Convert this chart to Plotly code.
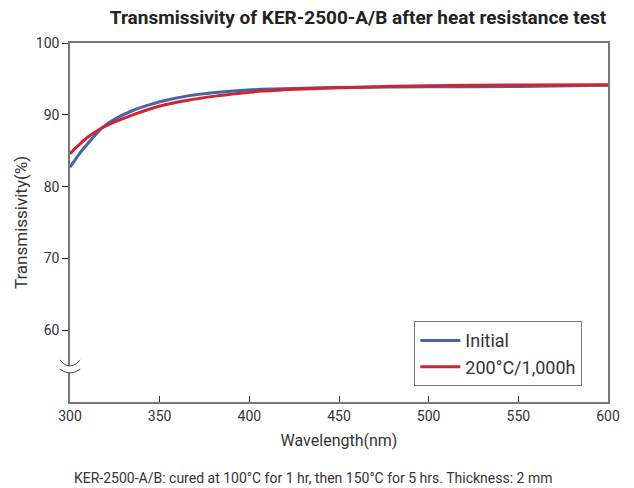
import plotly.graph_objects as go

# wavelength (nm) and transmissivity (%)
wavelength = [300, 305, 310, 318, 325, 335, 345, 353, 365, 381, 395, 407, 430, 462, 500, 550, 600]
initial = [82.7, 84.5, 86.0, 88.2, 89.4, 90.6, 91.45, 92.0, 92.6, 93.1, 93.4, 93.55, 93.7, 93.85, 93.9, 93.95, 94.1]
after_heat = [84.6, 85.8, 86.9, 88.2, 89.0, 90.0, 90.85, 91.4, 92.0, 92.6, 93.0, 93.3, 93.6, 93.85, 94.05, 94.15, 94.2]

x_ticks = [300, 350, 400, 450, 500, 550, 600]
y_ticks = [60, 70, 80, 90, 100]

font_name = "Roboto, Arial"

fig = go.Figure()
fig.add_trace(go.Scatter(x=wavelength, y=initial, mode="lines", name="Initial",
                         line=dict(color="#4466a6", width=3, shape="spline", smoothing=0.7)))
fig.add_trace(go.Scatter(x=wavelength, y=after_heat, mode="lines", name="200°C/1,000h",
                         line=dict(color="#d42233", width=3, shape="spline", smoothing=0.7)))

# axis break mark on the y axis (two curved marks with a gap in the axis)
fig.add_shape(type="rect", xref="paper", yref="y", x0=-0.006, x1=0.006, y0=54.1, y1=55.0,
              fillcolor="white", line=dict(width=0), layer="above")
fig.add_shape(type="path", xref="paper", yref="y", layer="above",
              path="M -0.019,55.85 Q 0,54.15 0.019,55.85",
              line=dict(color="#555", width=1))
fig.add_shape(type="path", xref="paper", yref="y", layer="above",
              path="M -0.019,54.6 Q 0,53.48 0.019,54.6",
              line=dict(color="#555", width=1))

fig.update_layout(
    width=634, height=488,
    margin=dict(l=70, r=26, t=43, b=86),
    paper_bgcolor="white", plot_bgcolor="white",
    font=dict(family=font_name, size=14, color="#333"),
    title=dict(text="<b>Transmissivity of KER-2500-A/B after heat resistance test</b>",
               x=358 / 634, xanchor="center", y=0.965, yanchor="middle",
               font=dict(family=font_name, size=19, color="#222")),
    xaxis=dict(range=[300, 600], tickvals=x_ticks, ticks="inside", ticklen=6,
               tickcolor="#333", showline=True, linecolor="#777", linewidth=1.5, mirror=True,
               showgrid=False, zeroline=False,
               title=dict(text="Wavelength(nm)", font=dict(size=16), standoff=12)),
    yaxis=dict(range=[50, 100], tickvals=y_ticks, ticks="outside", ticklen=6,
               tickcolor="#333", showline=True, linecolor="#777", linewidth=1.5, mirror=True,
               showgrid=False, zeroline=False,
               title=dict(text="Transmissivity(%)", font=dict(size=17), standoff=4)),
    legend=dict(x=0.64, y=0.225, xanchor="left", yanchor="top",
                bordercolor="#777", borderwidth=1, bgcolor="white",
                font=dict(size=18, color="#333"), tracegroupgap=0, itemwidth=40),
    showlegend=True,
)

fig.add_annotation(text="KER-2500-A/B: cured at 100°C for 1 hr, then 150°C for 5 hrs. Thickness: 2 mm",
                   xref="paper", yref="paper", x=(313 - 70) / 538, y=-0.212,
                   xanchor="center", yanchor="middle", showarrow=False,
                   font=dict(size=14, color="#333"))

fig.write_html("out.html", config={"displayModeBar": False},
               post_script="document.body.style.margin='0';")
